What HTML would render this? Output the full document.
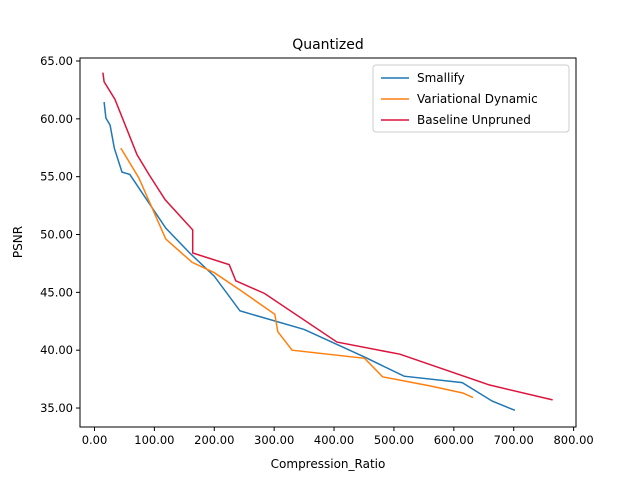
<!DOCTYPE html>
<html><head><meta charset="utf-8"><style>
body{margin:0;background:#fff;font-family:"Liberation Sans","DejaVu Sans",sans-serif}
svg text{font-family:"DejaVu Sans","Liberation Sans",sans-serif}
</style></head><body>
<svg id="c" width="640" height="480" xmlns="http://www.w3.org/2000/svg"></svg>
<script>
const xTicks=[0,100,200,300,400,500,600,700,800];
const yTicks=[35,40,45,50,55,60,65];
const seriesNames=["Smallify","Variational Dynamic","Baseline Unpruned"];
const seriesColors=["#1f77b4","#ff7f0e","#dc143c"];
const smallifyX=[16,19,26,33,46,59,119,159,200,243,350,451,517,614,664,702];
const smallifyY=[61.45,60.07,59.46,57.47,55.4,55.2,50.55,48.4,46.4,43.4,41.8,39.4,37.75,37.2,35.6,34.8];
const varX=[44,74,119,163,200,243,301,306,330,451,481,562,615,632];
const varY=[57.47,54.9,49.6,47.6,46.7,45.2,43.1,41.6,40.0,39.3,37.7,36.9,36.3,35.9];
const baseX=[14,16,34,71,92,118,164,164,225,236,284,405,510,659,765];
const baseY=[64,63.2,61.7,56.9,55.1,53.0,50.4,48.4,47.4,46.0,44.9,40.7,39.65,37.0,35.7];
const L=80,R=576,T=58,B=427,xmin=-24.2,xmax=804,ymin=33.36,ymax=65.26;
const sx=v=>L+(v-xmin)/(xmax-xmin)*(R-L);
const sy=v=>B-(v-ymin)/(ymax-ymin)*(B-T);
const svg=document.getElementById('c');const NS='http://www.w3.org/2000/svg';
function mk(t,a,txt){const e=document.createElementNS(NS,t);for(const k in a)e.setAttribute(k,a[k]);if(txt!=null)e.textContent=txt;svg.appendChild(e);return e;}
let e=mk('text',{x:328,y:49,'text-anchor':'middle','font-size':14},'Quantized');


xTicks.forEach(v=>{const x=sx(v);mk('line',{x1:x,x2:x,y1:B,y2:B+4,stroke:'#000'});
const t=mk('text',{x:x,y:B+17,'text-anchor':'middle','font-size':11.5},v.toFixed(2));

});
yTicks.forEach(v=>{const y=sy(v);mk('line',{x1:L-4,x2:L,y1:y,y2:y,stroke:'#000'});
const t=mk('text',{x:L-7,y:y+4,'text-anchor':'end','font-size':11.5},v.toFixed(2));

});
e=mk('text',{x:328,y:468,'text-anchor':'middle','font-size':12},'Compression_Ratio');


e=mk('text',{x:22,y:242,'text-anchor':'middle','font-size':12,transform:'rotate(-90 22 242)'},'PSNR');


const data=[[smallifyX,smallifyY],[varX,varY],[baseX,baseY]];
data.forEach((d,i)=>{const p=d[0].map((x,j)=>sx(x).toFixed(1)+','+sy(d[1][j]).toFixed(1)).join(' ');
const l=mk('polyline',{points:p,fill:'none',stroke:seriesColors[i],'stroke-width':1.5});

});
const f=mk('rect',{x:L,y:T,width:R-L,height:B-T,fill:'none',stroke:'#000','stroke-width':1});


const lg=mk('rect',{x:373,y:65,width:196,height:67,fill:'#fff',stroke:'#ccc',rx:3});


seriesNames.forEach((n,i)=>{const y=78+i*21;mk('line',{x1:381,x2:409,y1:y,y2:y,stroke:seriesColors[i],'stroke-width':1.5});
const t=mk('text',{x:417,y:y+4,'font-size':12},n);

});
</script>
</body></html>
